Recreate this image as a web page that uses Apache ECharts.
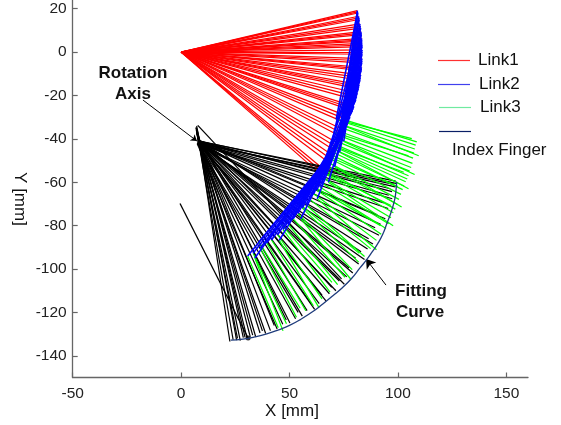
<!DOCTYPE html>
<html>
<head>
<meta charset="utf-8">
<script src="https://cdn.jsdelivr.net/npm/echarts@6/dist/echarts.min.js"></script>
<style>html,body{margin:0;padding:0;background:#fff}#c{width:561px;height:425px}</style>
</head>
<body>
<div id="c"></div>
<script>
// ---- data (mm) ----
var xTicks = [-50, 0, 50, 100, 150];
var yTicks = [-140, -120, -100, -80, -60, -40, -20, 0, 20];
var link1Start = [0, 0];
var link1End = [[81.3,19.1],[81.5,18],[81.9,16.5],[82.1,15],[82.5,13],[82.8,11],[83.0,9.4],[83.1,8],[83.3,6.3],[83.35,5],[83.4,4],[83.46,2.5],[83.5,1],[83.5,-1],[83.45,-3],[83.35,-5],[83.2,-7],[83.07,-8.5],[82.84,-10.5],[82.5,-13],[82.1,-15],[81.75,-17],[81.3,-19],[80.55,-22],[79.7,-25],[79.0,-27],[77.9,-30],[76.7,-33],[75.3,-36],[73.8,-39],[72.2,-42],[70.3,-45],[69.0,-47],[66.9,-50],[64.5,-53],[62.8,-55],
  [81.4,18.55],[82.0,15.75],[82.65,12],[83.05,8.7],[83.33,5.65],[83.43,3.25],[83.5,0],[83.4,-4],[83.14,-7.75],[82.67,-11.75],[81.93,-16],[80.93,-20.5],[79.35,-26],[77.3,-31.5],[74.55,-37.5],[71.25,-43.5],[67.95,-48.5],[63.65,-54]];
var link2End = [[74.3,-30.9],[73.9,-31.9],[73.7,-33.3],[73.4,-34.7],[73.2,-36.6],[73.0,-38.5],[72.6,-40.0],[72.1,-41.3],[71.8,-42.9],[71.3,-44.0],[70.8,-44.9],[70.3,-46.3],[69.8,-47.6],[69.2,-49.4],[68.6,-51.3],[68.0,-53.1],[67.3,-54.9],[66.6,-56.2],[65.8,-58.1],[64.9,-60.4],[64.0,-62.2],[62.6,-63.7],[61.2,-65.3],[59.4,-67.9],[57.6,-70.4],[55.9,-71.9],[53.9,-74.4],[51.7,-76.9],[49.4,-79.4],[47.0,-81.8],[44.5,-84.2],[41.7,-86.6],[39.5,-88.0],[36.5,-90.3],[33.2,-92.7],[30.7,-94.0],
  [71.5,-31.0],[76.2,-34.4],[70.5,-37.0],[75.0,-41.2],[69.0,-42.8],[73.1,-46.2],[67.0,-47.7],[70.8,-52.9],[64.5,-54.7],[67.9,-60.0],[60.9,-61.9],[62.8,-67.6],[54.4,-69.9],[55.2,-76.9],[45.9,-79.1],[45.3,-86.8],[35.9,-87.5],[34.0,-94.9]];
var link3End = [[108.7,-41.4],[108.2,-42.9],[107.8,-44.7],[107.4,-46.6],[107.0,-48.9],[106.7,-51.3],[106.1,-53.2],[105.4,-54.9],[104.9,-57.0],[104.3,-58.5],[103.6,-59.8],[102.9,-61.7],[102.2,-63.4],[101.4,-65.6],[100.5,-67.9],[99.7,-70.1],[98.8,-72.4],[97.9,-74.1],[96.8,-76.4],[95.7,-79.1],[94.5,-81.3],[92.3,-84.0],[90.1,-86.8],[87.4,-90.6],[84.6,-94.2],[81.9,-96.8],[78.9,-100.3],[75.6,-103.8],[72.2,-107.2],[68.7,-110.6],[65.0,-113.8],[61.0,-117.0],[57.5,-119.2],[53.2,-122.2],[48.6,-125.2],[44.8,-127.1],
  [106.4,-39.9],[109.6,-47.8],[104.9,-47.8],[107.7,-56.4],[102.7,-55.4],[104.9,-63.0],[100.0,-62.0],[101.7,-71.4],[96.8,-70.7],[97.8,-80.1],[92.0,-80.0],[90.1,-91.1],[82.2,-92.8],[78.2,-104.6],[69.6,-106.2],[63.6,-117.8],[54.9,-118.1],[47.0,-128.5]];
var fingerStart = [[8.6,-41.0],[8.2,-41.6],[9.0,-41.2],[7.8,-42.0],[8.4,-42.4],[9.2,-41.8],[8.0,-41.3],[7.6,-42.6],[8.8,-42.1],[8.3,-40.8],[7.9,-41.9],[9.1,-42.5],[8.5,-41.5],[7.7,-41.1],[8.9,-40.9],[8.1,-42.8],[7.5,-41.7],[8.7,-42.2],[8.2,-41.0],[7.8,-42.5],[9.0,-41.6],[8.4,-40.7],[7.6,-41.9],[8.6,-42.7],[8.0,-41.4],[7.4,-42.2],[8.3,-41.1],[7.7,-40.5],[8.1,-39.5],[7.5,-38.8],[7.9,-38.0],[7.2,-37.5],[7.6,-36.8],[7.0,-36.0],[7.4,-35.3],[6.9,-34.6],[7.2,-34.0],[7.7,-33.8],
  [8.4,-41.2],[8.0,-42.1],[8.8,-41.7],[7.7,-41.4],[8.5,-42.3],[9.0,-41.0],[7.9,-42.4],[8.6,-41.8],[8.2,-42.6],[7.6,-41.5],[8.7,-40.9],[8.3,-42.0],[7.8,-41.0],[8.9,-42.2],[8.1,-41.6],[7.5,-42.0],[8.4,-40.6],[7.9,-39.8],[7.6,-38.5],[7.3,-37.2],[7.1,-35.8],[6.9,-35.0]];
var fingerEnd = [[99.6,-60.6],[98.8,-62.1],[97.3,-64.3],[97.4,-67.6],[95.5,-72.1],[94.2,-76.8],[92.0,-79.4],[91.3,-84.4],[88.5,-88.5],[86.0,-90.8],[84.6,-95.6],[81.9,-97.7],[79.2,-101.8],[76.4,-103.6],[75.3,-107.0],[71.4,-110.0],[68.4,-111.4],[66.8,-114.7],[63.7,-115.9],[61.6,-118.6],[58.1,-119.2],[55.9,-121.7],[52.8,-122.9],[50.2,-124.9],[46.9,-125.4],[44.3,-127.6],[41.2,-128.4],[39.0,-129.7],[36.4,-129.5],[34.4,-131.2],[31.9,-131.3],[30.5,-132.2],[28.7,-131.6],[27.3,-133.0],[25.6,-132.8],[24.0,-132.6],[22.5,-133.4],[74.0,-104.5],
  [99.0,-59.5],[98.2,-61.0],[96.5,-63.0],[95.8,-66.0],[93.5,-69.5],[90.5,-75.0],[89.5,-81.0],[86.5,-86.0],[83.0,-92.0],[80.5,-95.0],[77.5,-99.5],[73.0,-105.5],[69.5,-108.5],[65.0,-112.0],[60.0,-116.0],[54.0,-120.0],[48.5,-123.5],[43.0,-126.0],[37.5,-128.5],[33.0,-130.5],[29.5,-131.5],[26.0,-132.0]];
var fittingCurve = [[99.4,-59.8],[99.1,-64],[98.4,-68.5],[96.6,-74.5],[94.9,-79],[93,-84],[90.7,-88.3],[88.2,-92],[85.5,-95.8],[82.5,-99.5],[78.5,-104.5],[74.5,-108.5],[70,-112.3],[65.5,-116],[61.8,-118.9],[55,-123.3],[50,-126],[45,-128],[39.5,-129.9],[34,-131.3],[28.5,-132.3],[22.9,-132.8]];
var extraLine = [[-0.5,-69.8],[30.9,-131.8]];
var markerPoint = [[30.9,-131.8]];
var rotationArrow = [[-17.6,-22.1],[7.3,-41.0]];
var fittingArrow = [[94.5,-107.4],[85.3,-95.4]];

// ---- build ----
function segs(a, b) {
  return b.map(function (p, i) { return { coords: [Array.isArray(a[0]) ? a[i] : a, p] }; });
}
var FONT = 'Liberation Sans, Arial, Helvetica, sans-serif';
function lineSeries(data, color, w) {
  return { type: 'lines', coordinateSystem: 'cartesian2d', polyline: false, silent: true,
    lineStyle: { color: color, width: w || 1.2, opacity: 1 }, data: data };
}
var chart = echarts.init(document.getElementById('c'), null, { renderer: 'canvas' });
var axisCol = '#666';
chart.setOption({
  animation: false,
  backgroundColor: '#fff',
  grid: { left: 72.7, right: 33, top: 0, bottom: 47.5, containLabel: false, outerBoundsMode: 'none' },
  xAxis: {
    type: 'value', min: -50, max: 160, interval: 50,
    axisLine: { show: true, onZero: false, lineStyle: { color: axisCol, width: 1.3 } },
    axisTick: { show: true, inside: true, length: 5, customValues: xTicks, lineStyle: { color: axisCol, width: 1.2 } },
    axisLabel: { customValues: xTicks, color: '#222', fontSize: 15.5, fontFamily: FONT, margin: 8 },
    splitLine: { show: false }
  },
  yAxis: {
    type: 'value', min: -150, max: 24,
    axisLine: { show: true, onZero: false, lineStyle: { color: axisCol, width: 1.3 } },
    axisTick: { show: true, inside: true, length: 5, customValues: yTicks, lineStyle: { color: axisCol, width: 1.2 } },
    axisLabel: { customValues: yTicks, color: '#222', fontSize: 15.5, fontFamily: FONT, margin: 6 },
    splitLine: { show: false }
  },
  series: [
    lineSeries(segs(link1Start, link1End), '#ff0000'),
    lineSeries(segs(fingerStart, fingerEnd), '#000000'),
    lineSeries([{ coords: extraLine }], '#000000', 1.3),
    lineSeries(segs(link2End, link3End), '#00ff00'),
    lineSeries(segs(link1End, link2End), '#0000ff', 1.6),
    { type: 'line', data: fittingCurve, smooth: true, showSymbol: false, silent: true,
      lineStyle: { color: '#1f3c7c', width: 1.3 } },
    { type: 'scatter', data: markerPoint, symbolSize: 5, itemStyle: { color: '#000' }, silent: true },
    { type: 'lines', coordinateSystem: 'cartesian2d', silent: true, symbol: ['none', 'arrow'], symbolSize: [0, 6],
      lineStyle: { color: '#000', width: 1, opacity: 1 }, data: [{ coords: rotationArrow }] },
    { type: 'lines', coordinateSystem: 'cartesian2d', silent: true, symbol: ['none', 'arrow'], symbolSize: [0, 9],
      lineStyle: { color: '#000', width: 1, opacity: 1 }, data: [{ coords: fittingArrow }] }
  ],
  graphic: [
    { type: 'text', x: 292, y: 411, style: { text: 'X [mm]', font: '17px ' + FONT, fill: '#111', align: 'center', verticalAlign: 'middle' } },
    { type: 'text', x: 20, y: 199, rotation: -Math.PI / 2, style: { text: 'Y [mm]', font: '17px ' + FONT, fill: '#111', align: 'center', verticalAlign: 'middle' } },
    { type: 'text', x: 133, y: 73, style: { text: 'Rotation', font: 'bold 17px ' + FONT, fill: '#111', align: 'center', verticalAlign: 'middle' } },
    { type: 'text', x: 133, y: 94, style: { text: 'Axis', font: 'bold 17px ' + FONT, fill: '#111', align: 'center', verticalAlign: 'middle' } },
    { type: 'text', x: 421, y: 291, style: { text: 'Fitting', font: 'bold 17px ' + FONT, fill: '#111', align: 'center', verticalAlign: 'middle' } },
    { type: 'text', x: 420, y: 312, style: { text: 'Curve', font: 'bold 17px ' + FONT, fill: '#111', align: 'center', verticalAlign: 'middle' } },
    { type: 'line', shape: { x1: 438, y1: 60.5, x2: 470, y2: 60.5 }, style: { stroke: '#ff3030', lineWidth: 1.2 } },
    { type: 'line', shape: { x1: 438, y1: 84.5, x2: 470, y2: 84.5 }, style: { stroke: '#4040ee', lineWidth: 1.2 } },
    { type: 'line', shape: { x1: 439, y1: 107.5, x2: 471, y2: 107.5 }, style: { stroke: '#70eaa0', lineWidth: 1.2 } },
    { type: 'line', shape: { x1: 439, y1: 131.5, x2: 471, y2: 131.5 }, style: { stroke: '#0a1f66', lineWidth: 1.2 } },
    { type: 'text', x: 478, y: 60, style: { text: 'Link1', font: '17px ' + FONT, fill: '#111', align: 'left', verticalAlign: 'middle' } },
    { type: 'text', x: 479, y: 84, style: { text: 'Link2', font: '17px ' + FONT, fill: '#111', align: 'left', verticalAlign: 'middle' } },
    { type: 'text', x: 480, y: 107, style: { text: 'Link3', font: '17px ' + FONT, fill: '#111', align: 'left', verticalAlign: 'middle' } },
    { type: 'text', x: 452, y: 150, style: { text: 'Index Finger', font: '17px ' + FONT, fill: '#111', align: 'left', verticalAlign: 'middle' } }
  ]
});
</script>
</body>
</html>
